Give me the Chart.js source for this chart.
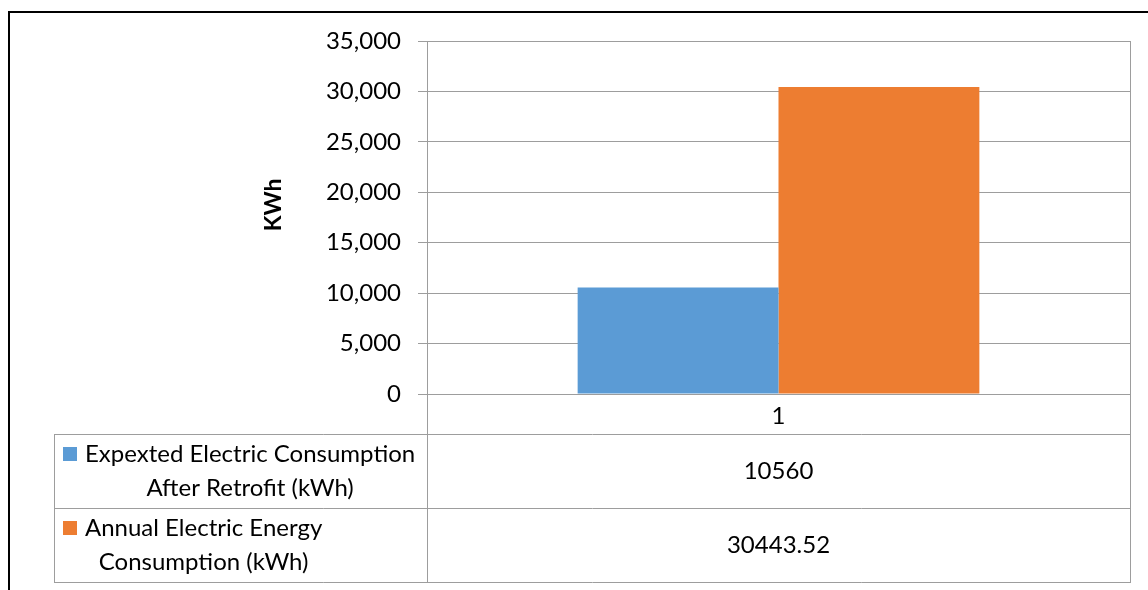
<!DOCTYPE html>
<html>
<head>
<meta charset="utf-8">
<script src="https://cdn.jsdelivr.net/npm/chart.js@4/dist/chart.umd.min.js"></script>
<style>
  html, body { margin: 0; padding: 0; background: #fff; }
  #wrap { position: relative; width: 1148px; height: 590px; }
</style>
</head>
<body>
<div id="wrap"><canvas id="chart" width="1148" height="590"></canvas></div>
<script>
// Category axis
const categories = ['1'];

// Series names (as wrapped in the data table) and values
const afterRetrofitName = ['Expexted Electric Consumption', 'After Retrofit (kWh)'];
const annualName = ['Annual Electric Energy', 'Consumption (kWh)'];
const afterRetrofitValues = [10560];
const annualValues = [30443.52];

// Value axis
const yTickValues = [0, 5000, 10000, 15000, 20000, 25000, 30000, 35000];
const yAxisTitle = 'KWh';

const FONT = 'Lato, "Open Sans", sans-serif';
const TEXT_SIZE = 24;
const GRID = '#9d9d9d';

// Frame, axis title and the data table under the category axis
const dataTablePlugin = {
  id: 'dataTable',
  afterDraw(chart) {
    const { ctx } = chart;
    const x = chart.scales.x;
    const top = x.bottom;          // bottom of the category row
    const rowH = 74;
    const tableLeft = 54;
    const keyLeft = 63, keySize = 14, textLeft = 85;

    ctx.save();
    // chart frame
    ctx.fillStyle = '#000';
    ctx.fillRect(8, 11, 2, chart.height);
    ctx.fillRect(8, 11, chart.width, 2);

    // value axis title
    ctx.save();
    ctx.translate(274, 205);
    ctx.rotate(-Math.PI / 2);
    ctx.font = `bold 23px ${FONT}`;
    ctx.textAlign = 'center';
    ctx.textBaseline = 'middle';
    ctx.fillStyle = '#000';
    ctx.fillText(yAxisTitle, 0, 0);
    ctx.restore();

    // table lines
    ctx.strokeStyle = GRID;
    ctx.lineWidth = 1;
    const hl = (y, x0, x1) => { ctx.beginPath(); ctx.moveTo(x0, Math.round(y) + 0.5); ctx.lineTo(x1, Math.round(y) + 0.5); ctx.stroke(); };
    const vl = (xx, y0, y1) => { ctx.beginPath(); ctx.moveTo(Math.round(xx) + 0.5, y0); ctx.lineTo(Math.round(xx) + 0.5, y1); ctx.stroke(); };
    const rows = chart.data.datasets.length;
    const bottom = top + rows * rowH;
    for (let r = 0; r <= rows; r++) hl(top + r * rowH, tableLeft, x.right + 1);
    vl(tableLeft, top, bottom + 1);
    vl(x.left, chart.chartArea.bottom, bottom + 1);
    const n = chart.data.labels.length;
    const catW = (x.right - x.left) / n;
    for (let i = 1; i <= n; i++) vl(x.left + i * catW, chart.chartArea.bottom, bottom + 1);

    // row contents
    ctx.font = `${TEXT_SIZE}px ${FONT}`;
    ctx.textBaseline = 'middle';
    chart.data.datasets.forEach((ds, r) => {
      const mid = top + r * rowH + rowH / 2;
      const lines = ds.tableLines;
      const lineGap = 34;
      const firstY = mid - (lines.length - 1) * lineGap / 2;
      // legend key
      ctx.fillStyle = ds.backgroundColor;
      ctx.fillRect(keyLeft, Math.round(firstY - keySize / 2), keySize, keySize);
      // wrapped series name, lines centred within the block
      const blockW = Math.max(...lines.map(l => ctx.measureText(l).width));
      ctx.fillStyle = '#000';
      ctx.textAlign = 'center';
      lines.forEach((l, k) => ctx.fillText(l, textLeft + blockW / 2, firstY + k * lineGap));
      // values
      ds.data.forEach((v, i) => {
        ctx.fillText(String(v), x.getPixelForValue(i), mid);
      });
    });
    ctx.restore();
  }
};

new Chart(document.getElementById('chart'), {
  type: 'bar',
  data: {
    labels: categories,
    datasets: [
      { label: afterRetrofitName.join(' '), tableLines: afterRetrofitName, data: afterRetrofitValues,
        backgroundColor: '#5B9BD5', categoryPercentage: 2 / 3.5, barPercentage: 1 },
      { label: annualName.join(' '), tableLines: annualName, data: annualValues,
        backgroundColor: '#ED7D31', categoryPercentage: 2 / 3.5, barPercentage: 1 }
    ]
  },
  options: {
    responsive: false,
    animation: false,
    layout: { padding: { top: 41, right: 18, left: 0, bottom: 156 } },
    plugins: { legend: { display: false }, tooltip: { enabled: false } },
    scales: {
      x: {
        grid: { color: GRID, lineWidth: 1, drawTicks: false, offset: true },
        border: { color: GRID },
        ticks: { color: '#000', font: { family: FONT, size: TEXT_SIZE }, padding: 8 },
        afterFit(s) { s.height = 40; }
      },
      y: {
        min: 0, max: 35000,
        afterBuildTicks(s) { s.ticks = yTickValues.map(v => ({ value: v })); },
        grid: { color: GRID, lineWidth: 1, tickLength: 9 },
        border: { color: GRID },
        ticks: {
          color: '#000', padding: 17,
          font: { family: FONT, size: TEXT_SIZE },
          callback: v => v.toLocaleString('en-US')
        },
        afterFit(s) { s.width = 427; }
      }
    }
  },
  plugins: [dataTablePlugin]
});
</script>
</body>
</html>
